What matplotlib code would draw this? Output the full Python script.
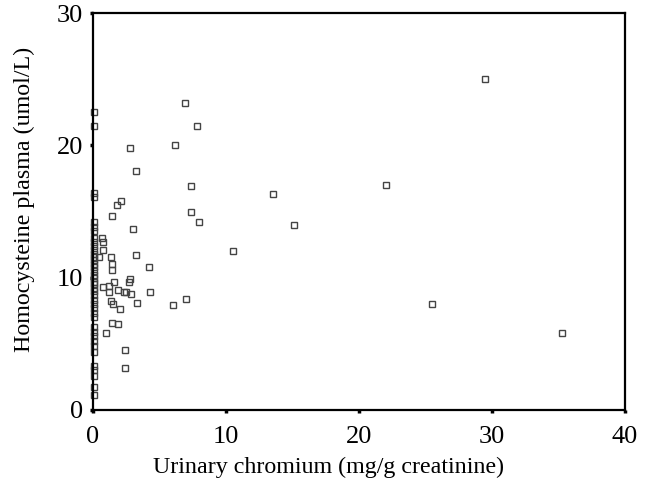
import matplotlib
matplotlib.use("Agg")
import matplotlib.pyplot as plt

# x = 0 column (undetectable chromium)
x_zero = [0.05] * 40
y_zero = [22.5, 21.5, 16.4, 16.1, 14.2, 13.8, 13.5, 13.0, 12.7, 12.4, 12.1, 11.8,
          11.6, 11.3, 11.0, 10.8, 10.5, 10.2, 10.0, 9.7, 9.5, 9.2, 9.0, 8.7, 8.3,
          8.0, 7.7, 7.3, 7.0, 6.3, 5.9, 5.6, 5.2, 4.8, 4.4, 3.3, 3.0, 2.6, 1.7, 1.1]

x_other = [2.8, 6.2, 6.9, 7.8, 3.2, 7.4, 7.4, 8.0, 13.5, 15.1, 10.5, 22.0, 29.5,
           25.5, 35.3, 1.8, 2.1, 1.4, 3.0, 0.7, 0.75, 0.75, 0.45, 1.35, 3.2, 1.4,
           1.4, 4.2, 2.8, 2.7, 1.6, 0.75, 1.2, 1.2, 1.9, 2.3, 2.5, 2.85, 4.3, 3.3,
           1.35, 1.5, 2.0, 6.0, 7.0, 1.4, 1.9, 1.0, 2.4, 2.4]
y_other = [19.8, 20.0, 23.2, 21.5, 18.1, 16.9, 15.0, 14.2, 16.3, 14.0, 12.0, 17.0,
           25.0, 8.0, 5.8, 15.5, 15.8, 14.7, 13.7, 13.0, 12.7, 12.1, 11.6, 11.6,
           11.7, 11.0, 10.6, 10.8, 9.9, 9.7, 9.7, 9.3, 9.4, 8.9, 9.1, 8.9, 8.9,
           8.8, 8.9, 8.1, 8.2, 8.0, 7.6, 7.9, 8.4, 6.6, 6.5, 5.8, 4.5, 3.2]

x_ticks = [0, 10, 20, 30, 40]
y_ticks = [0, 10, 20, 30]

plt.rcParams['font.family'] = ['Liberation Serif', 'DejaVu Serif']

fig = plt.figure(figsize=(6.5, 4.88), dpi=100)
ax = fig.add_axes([0.143, 0.160, 0.8185, 0.813])

ax.plot(x_zero + x_other, y_zero + y_other, linestyle='none', marker='s',
        markersize=4.5, markerfacecolor='none', markeredgecolor='#444444',
        markeredgewidth=1.0, clip_on=False)

ax.set_xlim(0, 40)
ax.set_ylim(0, 30)
ax.set_xticks(x_ticks)
ax.set_yticks(y_ticks)
ax.tick_params(direction='out', length=2.5, width=2.5, labelsize=19, colors='black')
ax.tick_params(axis='x', pad=9)
ax.tick_params(axis='y', pad=4.5)
for s in ax.spines.values():
    s.set_linewidth(1.6)

ax.set_xlabel('Urinary chromium (mg/g creatinine)', fontsize=17.3)
ax.set_ylabel('Homocysteine plasma (umol/L)', fontsize=17.3)
ax.xaxis.set_label_coords(0.442, -0.117)
ax.yaxis.set_label_coords(-0.108, 0.531)

fig.savefig('out.png', dpi=100)
